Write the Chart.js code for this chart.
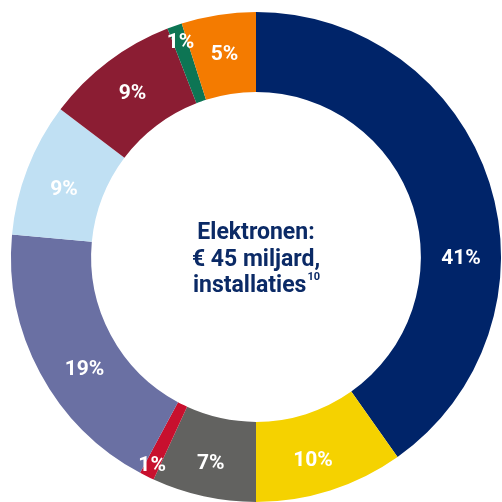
<!DOCTYPE html>
<html lang="nl">
<head>
    <meta charset="UTF-8">
    <script src="https://cdn.jsdelivr.net/npm/chart.js"></script>
    <style>
        html, body { margin: 0; padding: 0; overflow: hidden; background: #fff; }
        #chart { display: block; }
    </style>
</head>
<body>
    <canvas id="chart" width="512" height="514"></canvas>

    <script>
        // investeringen per categorie, in procenten
        const categories = ['A', 'B', 'C', 'D', 'E', 'F', 'G', 'H', 'I'];
        const shares = [41, 10, 7, 1, 19, 9, 9, 1, 5];
        const colours = ['#002469', '#f5d200', '#626260', '#c8102e', '#6a70a3',
                         '#c0e0f3', '#8b1d33', '#0d7554', '#f47b00'];
        const centerLines = ['Elektronen:', '€ 45 miljard,', 'installaties'];
        const footnote = '10';

        // label placement tweaks: [extra angle in degrees, radius as fraction of ring]
        const labelTweaks = { 0: [18, 0.5], 1: [2, 0.58], 2: [0, 0.58], 3: [0, 0.85], 7: [0, 0.78], 4: [-5, 0.5], 5: [-2, 0.48] };

        const sliceLabels = {
            id: 'sliceLabels',
            afterDatasetsDraw(chart) {
                const ctx = chart.ctx;
                const meta = chart.getDatasetMeta(0);
                ctx.save();
                ctx.fillStyle = '#fff';
                ctx.font = 'bold 21px Roboto';
                ctx.textAlign = 'center';
                ctx.textBaseline = 'middle';
                meta.data.forEach((arc, i) => {
                    const p = arc.getProps(['x', 'y', 'startAngle', 'endAngle', 'innerRadius', 'outerRadius'], true);
                    const t = labelTweaks[i] || [0, 0.5];
                    const a = (p.startAngle + p.endAngle) / 2 + t[0] * Math.PI / 180;
                    const r = p.innerRadius + (p.outerRadius - p.innerRadius) * t[1];
                    ctx.fillText(shares[i] + '%', p.x + Math.cos(a) * r, p.y + Math.sin(a) * r);
                });
                ctx.restore();
            }
        };

        const centerText = {
            id: 'centerText',
            afterDraw(chart) {
                const ctx = chart.ctx;
                const arc = chart.getDatasetMeta(0).data[0];
                const cx = arc.x, cy = arc.y;
                ctx.save();
                ctx.fillStyle = '#0b2a66';
                ctx.font = 'bold 23px Roboto';
                ctx.textAlign = 'center';
                ctx.textBaseline = 'middle';
                const step = 26.5;
                centerLines.forEach((line, i) => {
                    const y = cy + (i - 1) * step + 3;
                    if (i === centerLines.length - 1) {
                        ctx.font = 'bold 11px Roboto';
                        const sw = ctx.measureText(footnote).width;
                        ctx.font = 'bold 23px Roboto';
                        const w = ctx.measureText(line).width;
                        const x0 = cx - (w + sw) / 2;
                        ctx.textAlign = 'left';
                        ctx.fillText(line, x0, y);
                        ctx.font = 'bold 11px Roboto';
                        ctx.fillText(footnote, x0 + w + 1, y - 9);
                    } else {
                        ctx.fillText(line, cx, y);
                    }
                });
                ctx.restore();
            }
        };

        const ctx = document.getElementById('chart').getContext('2d');
        const chart = new Chart(ctx, {
            type: 'doughnut',
            data: {
                labels: categories,
                datasets: [{
                    data: shares,
                    backgroundColor: colours,
                    borderWidth: 0
                }]
            },
            options: {
                responsive: false,
                animation: false,
                cutout: '67.3%',
                layout: { padding: 11 },
                plugins: {
                    legend: { display: false },
                    tooltip: { enabled: false }
                }
            },
            plugins: [sliceLabels, centerText]
        });
    </script>
</body>
</html>
